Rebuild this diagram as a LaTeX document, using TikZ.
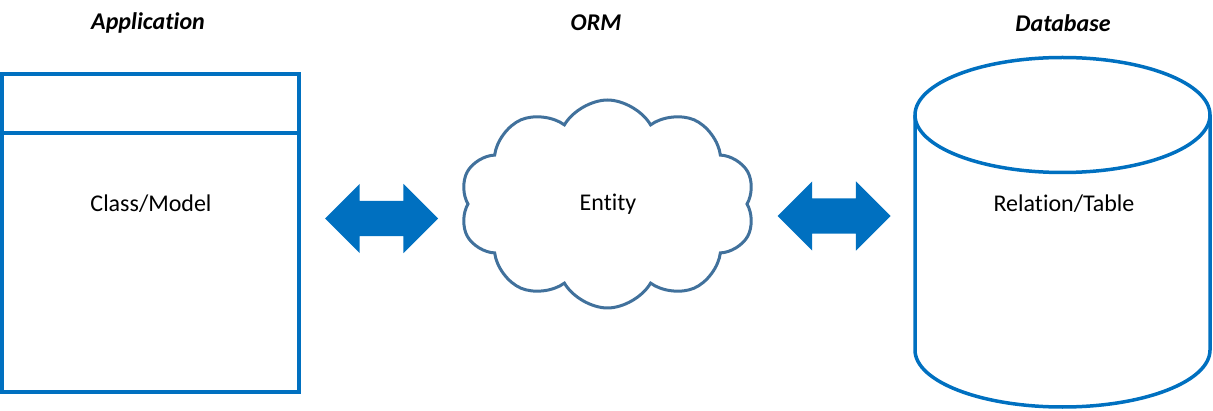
\documentclass[tikz,border=0pt]{standalone}
\usepackage{fontspec}
\setmainfont{Carlito}[Ligatures=NoCommon]
\usepackage{tikz}
\usetikzlibrary{positioning}
\usetikzlibrary{shapes.arrows}
\usetikzlibrary{shapes.symbols}

\definecolor{boxblue}{RGB}{0,112,192}
\definecolor{cloudblue}{RGB}{65,113,156}

\tikzset{
    title/.style={font=\fontsize{24}{28}\selectfont\bfseries\itshape},
    label/.style={font=\fontsize{24}{28}\selectfont},
    link/.style={double arrow,fill=boxblue,draw=none,inner xsep=0pt,inner ysep=17.5pt,
        minimum width=69pt,minimum height=113pt,double arrow head extend=17pt}
}

\begin{document}
\begin{tikzpicture}[x=1pt,y=1pt]
        \useasboundingbox (0,0) rectangle (1213,410);
        % titles
        \node[title] (t_app) at (148,387)  {Application};
        \node[title] (t_orm) at (596,387)  {ORM};
        \node[title] (t_db)  at (1063,387) {Database};
        % application side
        \node[draw=boxblue,line width=4pt,minimum width=297pt,minimum height=317pt,inner sep=0pt] (model) at (150.5,177) {};
        \draw[boxblue,line width=4pt] (model.west |- 0,276.5) -- (model.east |- 0,276.5);
        \node[label] (l_model) at (151,206) {Class/Model};
        % orm
        \node[cloud,draw=cloudblue,line width=3pt,cloud puffs=10,cloud puff arc=120,aspect=1.4,
              minimum width=295pt,minimum height=208pt,inner sep=0pt] (orm) at (607.5,206) {};
        \node[label] (l_entity) at (608,206) {Entity};
        % database
        \coordinate (db_c) at (1062.5,295);
        \draw[boxblue,line width=3.5pt] (db_c) ellipse[x radius=147.5,y radius=57.5];
        \draw[boxblue,line width=3.5pt] (915,295) -- (915,60)
            arc[start angle=180,end angle=360,x radius=147.5,y radius=57] -- (1210,295);
        \node[label] (l_table) at (1064,206) {Relation/Table};
        % links
        \node[link] (link_a) at (381.5,191.5) {};
        \node[link] (link_b) at (834,194) {};
    \end{tikzpicture}
\end{document}
